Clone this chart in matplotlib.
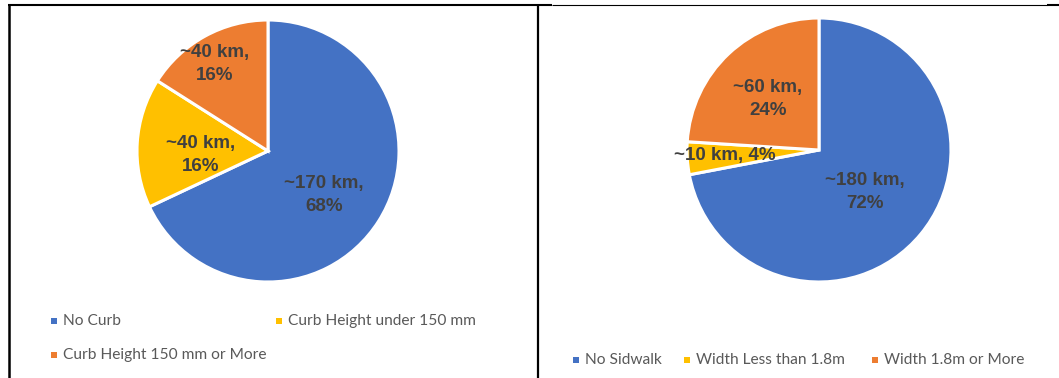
import matplotlib
matplotlib.use("Agg")
import matplotlib.pyplot as plt
from matplotlib.lines import Line2D
from matplotlib.patches import Rectangle

W, H = 1059, 378

# curb survey
curb_labels = ["No Curb", "Curb Height under 150 mm", "Curb Height 150 mm or More"]
curb_km = [170, 40, 40]
curb_pct = [68, 16, 16]

# sidewalk survey
walk_labels = ["No Sidwalk", "Width Less than 1.8m", "Width 1.8m or More"]
walk_km = [180, 10, 60]
walk_pct = [72, 4, 24]

colors = ["#4472C4", "#FFC000", "#ED7D31"]
text_dark = "#404040"
text_grey = "#595959"


def fx(x):
    return x / W


def fy(y):
    return 1 - y / H


fig = plt.figure(figsize=(W / 100, H / 100), dpi=100)
fig.patch.set_facecolor("white")


def draw_pie(cx, cy, r, pct, km, label_pos, seps):
    m = 1.04
    ax = fig.add_axes([fx(cx - r * m), fy(cy + r * m), 2 * r * m / W, 2 * r * m / H])
    ax.pie(pct, colors=colors, startangle=90, counterclock=False, radius=1,
           wedgeprops=dict(edgecolor="white", linewidth=2.2))
    ax.set_xlim(-m, m)
    ax.set_ylim(-m, m)
    ax.set_aspect("equal")
    ax.axis("off")
    for k, p, (tx, ty), sep in zip(km, pct, label_pos, seps):
        ax.text(tx, ty, f"~{k} km,{sep}{p}%", ha="center", va="center",
                fontsize=13.5, fontweight="bold", color=text_dark,
                family="Liberation Sans", linespacing=1.45)
    return ax


def legend_entry(mx, my, color, label):
    s = 6
    fig.add_artist(Rectangle((fx(mx - s / 2), fy(my + s / 2)), s / W, s / H,
                             transform=fig.transFigure, facecolor=color,
                             edgecolor="none"))
    fig.text(fx(mx + 9), fy(my), label, ha="left", va="center",
             fontsize=11.2, color=text_grey, family="Lato")


draw_pie(268, 151, 131, curb_pct, curb_km,
         [(0.427, -0.336), (-0.511, -0.031), (-0.405, 0.664)],
         ["\n", "\n", "\n"])
draw_pie(819, 150, 132, walk_pct, walk_km,
         [(0.351, -0.321), (-0.71, -0.038), (-0.389, 0.385)],
         ["\n", " ", "\n"])

# legends
for (mx, my), c, lab in zip([(54, 321), (279, 321), (54, 355)], colors, curb_labels):
    legend_entry(mx, my, c, lab)
for (mx, my), c, lab in zip([(576, 360), (687, 360), (875, 360)], colors, walk_labels):
    legend_entry(mx, my, c, lab)

# table borders around the two charts
def border(x0, y0, x1, y1, lw):
    fig.add_artist(Line2D([fx(x0), fx(x1)], [fy(y0), fy(y1)],
                          transform=fig.transFigure, color="black",
                          linewidth=lw, solid_capstyle="butt"))


border(8, 5, 552, 5, 1.5)
border(552, 5, 1047, 5, 0.8)
border(1047, 5, 1059, 5, 1.5)
border(9, 4, 9, 378, 1.8)
border(538, 4, 538, 378, 1.6)

fig.savefig("out.png", dpi=100)
